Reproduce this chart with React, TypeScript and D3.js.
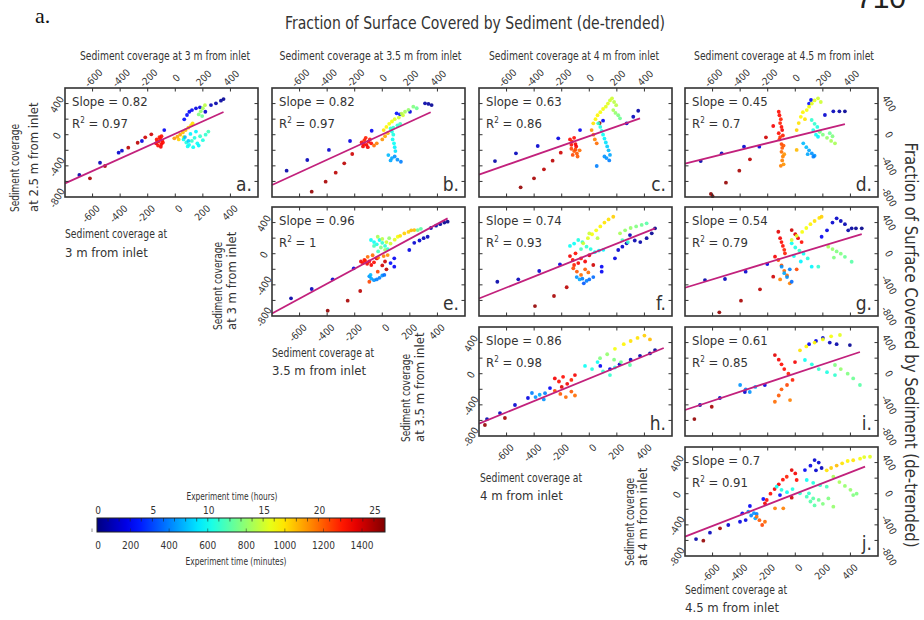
import React from 'react';
import * as d3 from 'd3';

type P = [number, number, number]; // [x value, y value, experiment time in hours]

// ---------- DATA ----------
const pointsA: P[] = [
  [-696,-517,1],[-546,-360,1.5],[-411,-231,2],[-387,-205,2],[-242,-81,2.5],[-80,60,3],
  [65,198,3.5],[85,253,3.5],[102,295,3],[121,317,3],[150,339,2.5],[179,352,2.5],[218,295,2],[259,381,1.5],[295,403,1],[331,437,0.8],[350,458,0.5],
  [-619,-560,25],[-510,-402,25],[-341,-167,24.5],[-273,-103,24.5],[-218,-34,24],[-174,5,24],
  [-135,-60,22.5],[-120,-90,22],[-110,-50,22.5],[-100,-120,23],[-125,-140,22.5],[-95,-75,22],[-140,-110,23],[-105,-155,23],[-115,-30,22],[-90,-100,22.5],[-130,-85,22],[-100,-20,22.5],
  [-7,-46,19],[15,-25,18.5],[35,0,18.5],[55,30,18],[75,60,18],[95,90,17.5],[115,120,17],[126,146,17],[25,-60,17.5],[60,-30,16.5],
  [60,-60,10],[80,-100,10.5],[100,-130,10],[120,-80,11],[140,-40,10.5],[160,-110,10],[180,-20,11],[200,-70,10.5],[220,0,11],[110,10,9.5],[150,40,9.5],[90,-150,10],[130,-160,10],[170,-140,9.5],[240,40,11.5],
  [70,-30,8],[95,-80,8.5],
  [170,260,13],[185,300,13.5],[200,340,14],[215,380,14.5],[195,240,12.5]
];
const pointsB: P[] = [
  [-694,-462,1],[-544,-325,1.5],[-387,-196,2],[-234,-81,2.5],[-77,51,3],
  [104,275,3.5],[128,262,3.5],[201,295,2.5],[310,403,1],[335,395,0.8],[358,381,0.5],
  [-512,-732,25.5],[-411,-603,25],[-338,-488,24.5],[-276,-367,24.5],[-218,-248,24],
  [-150,-100,22.5],[-130,-70,22],[-115,-130,23],[-100,-90,22.5],[-90,-60,22],[-140,-150,23],[-80,-110,22.5],[-120,-40,22],[-105,-160,23],[-135,-120,22.5],
  [-60,-140,20],[-40,-110,19.5],[0,-60,19],[20,-20,18.5],[40,20,18],
  [10,60,17],[30,100,16.5],[50,140,16],[70,170,16],[90,200,15.5],[120,220,15],[150,250,15],
  [165,295,14],[190,320,13.5],[225,360,13],[250,340,12.5],[140,270,14.5],
  [60,80,11],[70,40,10.5],[80,0,10.5],[75,-60,10],[85,-110,10],[90,-160,9.5],[95,-210,9],[80,90,11],[110,120,11],[130,140,11.5],
  [44,-261,8],[70,-300,7.5],[90,-280,7],[110,-320,7],[135,-347,6.5],[60,-330,7.5]
];
const pointsC: P[] = [
  [-684,-338,1],[-532,-239,1.5],[-374,-145,2],[-225,-46,2.5],[-67,60,3],[271,146,2],[319,231,1.5],[355,308,1],[100,180,3],
  [-498,-676,25.5],[-401,-560,25],[-329,-444,24.5],[-266,-334,24.5],[-207,-231,24],[75,150,25.8],
  [-140,-60,22.5],[-125,-90,22],[-110,-40,22.5],[-100,-120,23],[-130,-130,22.5],[-95,-150,23],
  [-130,-180,21],[-110,-210,20.5],[-90,-240,20.5],[-70,-200,20],[-120,-260,21],[-85,-280,20.5],[-100,-190,21],
  [17,60,19],[30,0,19.5],[54,-111,20],[40,-60,19.5],
  [29,146,17],[45,200,16.5],[60,250,16.5],[80,290,16],[100,330,16],[120,360,15.5],[135,400,15.5],[150,440,15],[165,467,15],[180,420,14.5],[195,380,14.5],
  [174,317,14],[190,280,13.5],[210,250,13],[223,211,12.5],
  [65,146,11],[80,100,10.5],[90,50,10.5],[100,0,10],[110,-50,9.5],[120,-100,9],[130,-150,8.5],[140,-200,8],[150,-260,7.5],[125,-300,7],[145,-330,6.5],[54,-402,6.5],[110,-280,7]
];
const pointsD: P[] = [
  [-686,-338,1],[-534,-239,1.5],[-372,-154,2],[-261,-154,2.5],[114,446,3],[215,253,2],[276,300,1.5],[320,300,1],[360,300,0.5],[100,400,3.5],
  [-612,-761,25.8],[-600,-790,25.8],[-503,-616,25.5],[-406,-462,25],[-329,-316,24.5],[-213,-33,24],
  [-160,112,23],[-120,295,22.5],[-115,250,22.5],[-105,200,22],[-110,150,22],[-100,100,22.5],[-95,60,23],[-120,20,22.5],[-90,-10,22],
  [-115,-60,21],[-100,-120,21],[-95,-170,20.5],[-85,-140,20.5],[-110,-30,21.5],
  [-100,-220,20],[-90,-280,19.5],[-95,-330,19.5],[-85,-380,19],[-105,-400,19.5],[-80,-250,19],
  [10,60,17.5],[25,150,17],[40,230,16.5],[55,290,16.5],[70,200,17],[83,317,16],[100,360,16],[120,400,15.5],[140,440,15.5],[165,467,15],[185,420,15],[10,-196,18],
  [119,189,11],[140,140,11],[160,100,10.5],[130,60,10.5],[175,40,10],[150,0,10],[165,-26,9.5],
  [58,-110,8],[80,-160,8],[100,-200,7.5],[120,-240,7],[140,-270,7],[131,-282,6.5],[90,-250,7.5],
  [179,38,13],[200,0,13],[230,-40,13.5],[260,-80,14],[288,-110,14],[250,20,12.5],[270,-20,13]
];
const pointsE: P[] = [
  [-662,-573,1],[-512,-453,1.5],[-360,-329,2],[-207,-188,2.5],[87,-59,3],[87,-167,3],[60,-120,3.5],
  [196,48,2.5],[232,140,2],[270,170,2],[300,200,1.5],[329,218,1.5],[353,330,1],[390,360,1],[420,380,0.8],[450,400,0.5],[474,411,0.3],
  [-396,-732,25.5],[-251,-603,25],[-160,-479,24.5],
  [-155,-100,23],[-140,-120,22.5],[-125,-90,22.5],[-110,-130,23],[-95,-100,22.5],[-80,-145,23],[-130,-81,22],[-60,-110,22.5],
  [-40,-60,23.5],[0,-150,24],[20,-100,24],[30,-200,24.5],
  [-106,-40,20],[-70,-20,20],[-30,-50,19.5],[10,-30,19.5],[39,-17,19],[-94,-360,21],[-33,-231,21],
  [-94,-290,7],[-80,-320,7.5],[-60,-340,7],[-40,-330,6.5],[-20,-310,6.5],[0,-280,7],[15,-273,6],[-85,-273,8],
  [-82,176,10],[-60,150,10],[-40,120,10.5],[-20,176,10],[0,140,11],[20,100,11],[39,60,11],[-60,100,11.5],[-30,30,11.5],
  [-33,218,14],[0,190,14.5],[30,150,15],[60,130,15],[90,180,15.5],[112,218,16],[-10,80,13],[20,50,13.5],[50,200,13.5],
  [130,230,17],[160,260,17.5],[190,280,17.5],[210,300,18],[232,304,18],
  [257,304,12.5],[280,320,12]
];
const pointsF: P[] = [
  [-667,-360,1],[-515,-329,1.5],[-363,-222,2],[-213,-136,2.5],[90,-167,3],[90,-231,3],[186,-59,2.5],[210,48,2],[240,90,2],[271,133,1.5],[295,240,1.5],[330,170,1.2],[370,150,1],[416,200,0.8],[453,262,0.5],[477,326,0.3],
  [-394,-672,25.5],[-256,-543,25],[-164,-431,24.5],
  [-140,-30,23],[-120,-80,22.5],[-100,5,22.5],[-80,-120,23],[-60,-60,22],[-30,-100,23],[0,-20,23.5],[29,-145,24],[-110,-145,22],
  [-116,-187,21],[-90,-230,20.5],[-60,-273,20],[-30,-200,20.5],[-7,-240,20],
  [-91,-300,7],[-70,-330,7.5],[-50,-320,6.5],[-20,-350,6.5],[0,-330,6],[29,-300,6],[-40,-380,5.5],
  [-140,100,10],[-110,130,10],[-80,176,10.5],[-50,150,11],[-20,90,11],[10,60,10.5],[40,20,10],[70,40,9.5],[102,50,9.5],[-60,60,11.5],
  [-44,133,15],[-10,200,15.5],[20,250,16],[50,300,16],[80,350,16.5],[110,400,17],[140,440,17],[174,475,17.5],[0,260,15],[60,200,14.5],
  [223,262,14],[260,300,13.5],[300,330,13.5],[340,350,13],[380,370,12.5],[416,390,12],[240,175,11.5],[280,150,11]
];
const pointsG: P[] = [
  [-655,-338,1],[-510,-325,1.5],[-360,-231,2],[-203,-132,2.5],[191,218,3],[230,300,2.5],[270,400,2],[300,454,1.8],[330,420,1.5],[360,380,1.2],[384,300,1],[409,326,0.8],[440,326,0.5],[482,326,0.3],
  [-551,-753,25.5],[-394,-603,25],[-256,-457,24.5],[-160,-295,24],
  [-147,-38,23],[-123,282,23.5],[-110,200,23],[-100,150,22.5],[-90,100,22.5],[-80,50,22],[-26,304,24],[0,250,23.5],[20,200,23],[46,150,22.5],[-75,5,22],
  [-123,-81,21],[-100,-150,20.5],[-80,-220,20],[-60,-280,20],[-110,-330,19.5],[-40,-380,19.5],[10,-200,21],
  [-99,-167,7],[-80,-250,7.5],[-60,-300,7],[-40,-200,6.5],[-26,-360,6],
  [-26,133,10],[0,80,10.5],[30,40,11],[60,0,10],[90,-60,10.5],[119,-167,9.5],[167,-167,11],[-10,-30,10],[40,-100,9.5],
  [-26,176,15],[10,230,15.5],[50,280,16],[80,330,16],[110,380,16.5],[140,420,17],[174,460,17],[191,475,17.5],
  [239,90,14],[270,60,13.5],[300,30,13],[330,0,13],[360,-40,12.5],[409,-103,12],[280,-50,13]
];
const pointsH: P[] = [
  [-742,-582,1],[-648,-505,1.5],[-539,-402,2],[-445,-312,2.5],[-285,-184,3],[80,100,3],[150,60,2.5],[220,120,2],[300,180,1.5],[368,230,1],[440,260,0.8],[477,304,0.5],
  [-416,-248,6.5],[-390,-300,7],[-360,-270,7.5],[-330,-330,7],[-321,-250,6.5],
  [-757,-659,25.5],[-612,-569,25],
  [-250,-60,23],[-220,-100,22.5],[-190,-40,22.5],[-160,-130,23],[-130,-80,22],[-104,-17,23],[-200,-170,23.5],
  [-250,-220,21],[-210,-260,20.5],[-170,-300,20],[-130,-230,20.5],[-104,-280,20],
  [-31,100,10],[20,60,10.5],[60,150,10],[100,30,11],[150,-17,11],[186,80,10.5],
  [78,200,13],[130,250,13.5],[180,180,13],[230,150,12.5],[295,112,12],
  [186,320,16],[250,380,16.5],[300,420,17],[350,460,17],[400,490,17.5],[440,440,18]
];
const pointsI: P[] = [
  [-691,-402,1],[-547,-312,1.5],[-366,-235,2],[-221,-145,2.5],[100,380,3],[150,420,2.5],[200,460,2],[250,400,1.5],[300,380,1],[396,368,0.5],
  [-732,-582,25.5],[-606,-424,25],
  [-400,-145,7],[-360,-200,6.5],[-330,-235,7],[-290,-170,7.5],
  [-148,240,23.5],[-120,180,23],[-100,120,22.5],[-80,60,22.5],[-50,0,22],[-20,-80,22],[-2,150,23],
  [-148,-360,20],[-120,-280,20.5],[-100,-200,20.5],[-60,-145,21],[-38,-338,19.5],
  [34,300,17],[80,350,16.5],[140,400,16.5],[200,440,16],[260,480,16],[324,497,15.5],
  [70,176,10],[120,120,10.5],[170,60,11],[230,20,10.5],[288,-17,11],
  [288,112,13],[330,60,13.5],[380,0,13],[420,-60,12.5],[469,-145,12]
];
const pointsJ: P[] = [
  [-720,-582,1],[-619,-501,1.5],[-486,-402,2],[-401,-360,2.5],[-360,-338,2.5],[-384,-252,3],[-329,-158,3],[-232,-68,3.5],[-111,-17,3.5],[70,304,3],[110,360,2.5],[140,432,2],[170,400,2],[191,330,1.5],[150,300,2],
  [-667,-603,25.5],[-546,-444,25],
  [-341,-231,7],[-320,-280,6.5],[-300,-250,7],[-290,-316,7.5],[-280,-260,6.5],
  [-280,-295,20],[-260,-340,20.5],[-240,-402,21],[-220,-360,20],[-147,-188,19.5],[-87,-188,19.5],
  [-220,-123,23],[-207,-81,22.5],[-180,0,22.5],[-150,60,23],[-120,120,23],[-90,180,22.5],[-62,218,22],[-26,304,23.5],[0,260,23],[10,176,22.5],[-26,-51,24],
  [-135,90,10],[-100,50,10.5],[-60,20,10],[-20,60,10.5],[34,5,11],[83,176,10],[130,140,10.5],[180,110,11],[228,90,11.5],
  [83,-38,11.5],[110,-100,12],[140,-150,12],[170,-80,12.5],[200,-130,13],[240,-60,13],[276,-167,13.5],[99,5,11],[130,-60,12],
  [276,218,14],[320,150,14],[360,100,13.5],[400,50,13.5],[445,0,13],[420,-17,13],
  [228,300,17],[260,330,17.5],[300,361,18],[340,390,17],[380,420,16.5],[420,430,17],[470,450,16],[500,470,15.5],[542,475,15.5]
];

const panelPoints: P[][] = [pointsA, pointsB, pointsC, pointsD, pointsE, pointsF, pointsG, pointsH, pointsI, pointsJ];
const panelLetters = ['a.', 'b.', 'c.', 'd.', 'e.', 'f.', 'g.', 'h.', 'i.', 'j.'];
const slopes = ['0.82', '0.82', '0.63', '0.45', '0.96', '0.74', '0.54', '0.86', '0.61', '0.7'];
const r2Values = ['0.97', '0.97', '0.86', '0.7', '1', '0.93', '0.79', '0.98', '0.85', '0.91'];
// regression lines: [x0, y0, x1, y1]
const fitLines: [number, number, number, number][] = [
  [-800, -625, 350, 292], [-800, -646, 351, 288], [-800, -512, 368, 210], [-800, -370, 360, 137],
  [-800, -768, 474, 454], [-800, -575, 477, 326], [-800, -437, 482, 253],
  [-800, -640, 540, 330], [-800, -466, 469, 279], [-800, -552, 506, 347]
];
const xTicks = [-600, -400, -200, 0, 200, 400];
const yTickMarks = [-600, -400, -200, 0, 200, 400];
const yTickLabels = [400, 0, -400, -800];
const columnTitles = [
  'Sediment coverage at 3 m from inlet',
  'Sediment coverage at  3.5 m from inlet',
  'Sediment coverage at 4 m from inlet',
  'Sediment coverage at 4.5 m from inlet'
];
const leftTitles = [
  ['Sediment coverage', 'at 2.5  m from inlet'],
  ['Sediment coverage', 'at 3  m from inlet'],
  ['Sediment coverage', 'at 3.5  m from inlet'],
  ['Sediment coverage', 'at 4  m from inlet']
];
const bottomTitles = [
  ['Sediment coverage at', '3 m from inlet'],
  ['Sediment coverage at', '3.5 m from inlet'],
  ['Sediment coverage at', '4 m from inlet'],
  ['Sediment coverage at', '4.5 m from inlet']
];
const hourTicks = [0, 5, 10, 15, 20, 25];
const minuteTicks = [0, 200, 400, 600, 800, 1000, 1200, 1400];
const mainTitle = 'Fraction of Surface Covered by Sediment (de-trended)';

// ---------- LAYOUT ----------
const COLS = [65, 272, 479, 685];
const ROWS = [88, 207, 327, 447];
const PW = 193;
const PH = 109;
const grid: [number, number][] = [[0,0],[0,1],[0,2],[0,3],[1,1],[1,2],[1,3],[2,2],[2,3],[3,3]];
const diag = [0, 4, 7, 9];
const leftTitlePos = [
  { b1: 19, b2: 38, y: 212 }, { b1: 222, b2: 236, y: 330 }, { b1: 410, b2: 424, y: 442 }, { b1: 634, b2: 647, y: 566 }
];
const bottomTitlePos = [
  { x: 65, y1: 238, y2: 257 }, { x: 272, y1: 357, y2: 375 }, { x: 480, y1: 482, y2: 500 }, { x: 685, y1: 594, y2: 612 }
];
const colTitleCenter = [165, 370.5, 574, 784];
const colTitleLen = [170, 182, 170, 180];

const FONT = '"Liberation Sans Narrow", "DejaVu Sans Condensed", "Roboto Condensed", "Liberation Sans", sans-serif';
const TXT = '#333';

function jet(v: number) {
  const c = (x: number) => Math.max(0, Math.min(1, x));
  const r = c(1.5 - Math.abs(4 * v - 3));
  const g = c(1.5 - Math.abs(4 * v - 2));
  const b = c(1.5 - Math.abs(4 * v - 1));
  return d3.rgb(r * 255, g * 255, b * 255).formatHex();
}
const timeNorm = d3.scaleLinear().domain([0, 26]).range([0, 1]).clamp(true);
const colorOf = (t: number) => jet(timeNorm(t));

function Panel({ idx }: { idx: number }) {
  const [row, col] = grid[idx];
  const L = COLS[col];
  const T = ROWS[row];
  const x = d3.scaleLinear().domain([-800, 600]).range([L, L + PW]);
  const y = d3.scaleLinear().domain([-800, 600]).range([T + PH, T]);
  const fl = fitLines[idx];
  const line = d3.line<[number, number]>().x(d => x(d[0])).y(d => y(d[1]));
  const isDiag = diag.indexOf(idx);
  const hasTop = row === 0;
  const hasRight = col === 3;
  return (
    <g>
      {panelPoints[idx].map((p, i) => (
        <circle key={i} cx={x(p[0])} cy={y(p[1])} r={1.9} fill={colorOf(p[2])} opacity={0.9} />
      ))}
      <path d={line([[fl[0], fl[1]], [fl[2], fl[3]]]) || ''} stroke="#c2217c" strokeWidth={1.8} fill="none" />
      <rect x={L} y={T} width={PW} height={PH} fill="none" stroke="#333" strokeWidth={1.6} />
      {xTicks.map(v => (
        <g key={'xt' + v}>
          <line x1={x(v)} x2={x(v)} y1={T} y2={T + 3.5} stroke="#333" strokeWidth={1} />
          <line x1={x(v)} x2={x(v)} y1={T + PH} y2={T + PH - 3.5} stroke="#333" strokeWidth={1} />
        </g>
      ))}
      {yTickMarks.map(v => (
        <g key={'yt' + v}>
          <line x1={L} x2={L + 3.5} y1={y(v)} y2={y(v)} stroke="#333" strokeWidth={1} />
          <line x1={L + PW} x2={L + PW - 3.5} y1={y(v)} y2={y(v)} stroke="#333" strokeWidth={1} />
        </g>
      ))}
      <text x={L + 7} y={T + 18} fontSize={13} fontFamily={FONT} fill={TXT}>{'Slope = ' + slopes[idx]}</text>
      <text x={L + 7} y={T + 40} fontSize={13} fontFamily={FONT} fill={TXT}>
        R<tspan dy={-5} fontSize={8}>2</tspan><tspan dy={5}>{' = ' + r2Values[idx]}</tspan>
      </text>
      <text x={L + PW - 6} y={T + PH - 6} fontSize={19} fontFamily={FONT} fill={TXT} textAnchor="end">{panelLetters[idx]}</text>
      {hasTop && xTicks.map(v => (
        <text key={'tl' + v} transform={`translate(${x(v) + 1},${T - 10}) rotate(-45)`} fontSize={10} fontFamily={FONT} fill={TXT} textAnchor="middle" dominantBaseline="central">{v}</text>
      ))}
      {hasTop && (
        <text x={colTitleCenter[col]} y={60} fontSize={13} fontFamily={FONT} fill={TXT} textAnchor="middle" textLength={colTitleLen[col]} lengthAdjust="spacingAndGlyphs">{columnTitles[col]}</text>
      )}
      {isDiag >= 0 && xTicks.map(v => (
        <text key={'bl' + v} transform={`translate(${x(v) + 3},${T + PH + 7}) rotate(-45)`} fontSize={10} fontFamily={FONT} fill={TXT} textAnchor="end" dominantBaseline="hanging">{v}</text>
      ))}
      {isDiag >= 0 && yTickLabels.map(v => (
        <text key={'ll' + v} transform={`translate(${L - 8},${y(v) + 1}) rotate(-60)`} fontSize={10} fontFamily={FONT} fill={TXT} textAnchor="middle" dominantBaseline="central">{v}</text>
      ))}
      {hasRight && yTickLabels.map(v => (
        <text key={'rl' + v} transform={`translate(${L + PW + 11},${y(v)}) rotate(60)`} fontSize={10} fontFamily={FONT} fill={TXT} textAnchor="middle" dominantBaseline="central">{v}</text>
      ))}
      {isDiag >= 0 && (
        <g>
          <text transform={`translate(${leftTitlePos[isDiag].b1},${leftTitlePos[isDiag].y}) rotate(-90)`} fontSize={13} fontFamily={FONT} fill={TXT} textLength={88} lengthAdjust="spacingAndGlyphs">{leftTitles[isDiag][0]}</text>
          <text transform={`translate(${leftTitlePos[isDiag].b2},${leftTitlePos[isDiag].y}) rotate(-90)`} fontSize={13} fontFamily={FONT} fill={TXT}>{leftTitles[isDiag][1]}</text>
          <text x={bottomTitlePos[isDiag].x} y={bottomTitlePos[isDiag].y1} fontSize={13} fontFamily={FONT} fill={TXT} textLength={102} lengthAdjust="spacingAndGlyphs">{bottomTitles[isDiag][0]}</text>
          <text x={bottomTitlePos[isDiag].x} y={bottomTitlePos[isDiag].y2} fontSize={13} fontFamily={FONT} fill={TXT}>{bottomTitles[isDiag][1]}</text>
        </g>
      )}
    </g>
  );
}

function ColorBar() {
  const hx = d3.scaleLinear().domain([0, 26]).range([97, 385]);
  const mx = d3.scaleLinear().domain([0, 1400]).range([92, 362]);
  const stops = d3.range(0, 1.0001, 0.05);
  const hourMinor = d3.range(1, 26, 1);
  return (
    <g>
      <defs>
        <linearGradient id="jetgrad" x1="0" x2="1" y1="0" y2="0">
          {stops.map(s => <stop key={s} offset={s} stopColor={jet(s)} />)}
        </linearGradient>
      </defs>
      <text x={232} y={500} fontSize={10} fontFamily={FONT} fill={TXT} textAnchor="middle" textLength={91} lengthAdjust="spacingAndGlyphs">Experiment time (hours)</text>
      {hourTicks.map(h => (
        <text key={'h' + h} x={hx(h) + 1} y={514} fontSize={10} fontFamily={FONT} fill={TXT} textAnchor="middle">{h}</text>
      ))}
      <rect x={hx(0)} y={518} width={hx(26) - hx(0)} height={14} fill="url(#jetgrad)" stroke="#222" strokeWidth={1} />
      {hourMinor.map(h => (
        <line key={'m' + h} x1={hx(h)} x2={hx(h)} y1={518} y2={521.5} stroke="#222" strokeWidth={0.8} opacity={0.8} />
      ))}
      {minuteTicks.map(m => (
        <line key={'mt' + m} x1={mx(m)} x2={mx(m)} y1={532} y2={528.5} stroke="#222" strokeWidth={0.8} opacity={0.6} />
      ))}
      {minuteTicks.map(m => (
        <text key={'mn' + m} x={mx(m) + (m === 0 ? 6 : 0)} y={549} fontSize={10} fontFamily={FONT} fill={TXT} textAnchor="middle">{m}</text>
      ))}
      <text x={236} y={565} fontSize={10} fontFamily={FONT} fill={TXT} textAnchor="middle" textLength={101} lengthAdjust="spacingAndGlyphs">Experiment time (minutes)</text>
    </g>
  );
}

export default function App() {
  return (
    <svg width={924} height={620} style={{ position: 'absolute', left: 0, top: 0, background: '#fff' }}>
      <rect x={0} y={0} width={924} height={620} fill="#fff" />
      <text x={35} y={23} fontSize={22} fontFamily='"Liberation Serif", "DejaVu Serif", serif' fill="#111">a.</text>
      <text x={856} y={8} fontSize={30} fontFamily='"Liberation Sans", sans-serif' fill="#222">710</text>
      <text x={475} y={29} fontSize={18} fontFamily={FONT} fill={TXT} textAnchor="middle" textLength={380} lengthAdjust="spacingAndGlyphs">{mainTitle}</text>
      <text transform="translate(905,345) rotate(90)" fontSize={18} fontFamily={FONT} fill={TXT} textAnchor="middle" textLength={405} lengthAdjust="spacingAndGlyphs">{mainTitle}</text>
      {panelPoints.map((_, i) => <Panel key={i} idx={i} />)}
      <ColorBar />
    </svg>
  );
}
